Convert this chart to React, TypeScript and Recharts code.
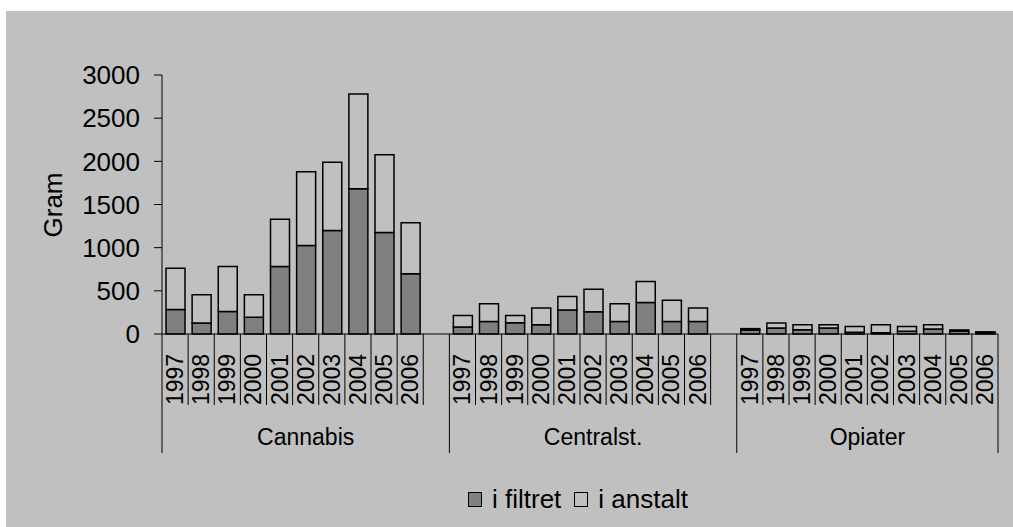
import React from "react"
import { BarChart, Bar, XAxis, YAxis } from "recharts"

const years = ["1997", "1998", "1999", "2000", "2001", "2002", "2003", "2004", "2005", "2006"]
const groups = ["Cannabis", "Centralst.", "Opiater"]

// i filtret / i anstalt, gram per year
const cannabisFiltret = [285, 127, 262, 193, 783, 1026, 1199, 1681, 1176, 698]
const cannabisAnstalt = [478, 328, 521, 262, 547, 852, 791, 1099, 899, 590]
const centralFiltret = [81, 146, 131, 108, 277, 258, 146, 365, 146, 146]
const centralAnstalt = [134, 204, 84, 192, 158, 261, 204, 243, 246, 154]
const opiaterFiltret = [45, 69, 50, 69, 19, 15, 31, 58, 35, 18]
const opiaterAnstalt = [17, 58, 58, 39, 69, 93, 57, 50, 12, 7]

const yTicks = [0, 500, 1000, 1500, 2000, 2500, 3000]

const seriesByGroup = [
    [cannabisFiltret, cannabisAnstalt],
    [centralFiltret, centralAnstalt],
    [opiaterFiltret, opiaterAnstalt],
]

type Row = { key: string; year: string; group: string; first: boolean; size: number; filtret?: number; anstalt?: number }

const rows: Row[] = []
groups.forEach((g, gi) => {
    const size = gi < groups.length - 1 ? years.length + 1 : years.length
    years.forEach((y, yi) => {
        rows.push({
            key: g + "-" + y,
            year: y,
            group: g,
            first: yi === 0,
            size,
            filtret: seriesByGroup[gi][0][yi],
            anstalt: seriesByGroup[gi][1][yi],
        })
    })
    if (gi < groups.length - 1) rows.push({ key: "gap" + gi, year: "", group: g, first: false, size })
})

const W = 1007
const H = 516
const MARGIN = { top: 64, right: 15, left: 0, bottom: 0 }
const Y_W = 156
const X_H = 193
const SLOT = (W - MARGIN.left - MARGIN.right - Y_W) / rows.length
const FONT = "Arial, 'Liberation Sans', sans-serif"

const YearTick = (props: any) => {
    const { x, y, index } = props
    const row = rows[index]
    const left = x - SLOT / 2
    return (
        <g>
            <line x1={left} y1={y} x2={left} y2={y + (row.first ? 119 : 71)} stroke="#000" strokeWidth={1} />
            {index === rows.length - 1 && (
                <line x1={left + SLOT} y1={y} x2={left + SLOT} y2={y + 119} stroke="#000" strokeWidth={1} />
            )}
            {row.year && (
                <text
                    transform={`translate(${x + 8}, ${y + 71}) rotate(-90)`}
                    textAnchor="start"
                    fontSize={23}
                    fontFamily={FONT}
                    fill="#000"
                >
                    {row.year}
                </text>
            )}
            {row.first && (
                <text x={left + (row.size * SLOT) / 2} y={y + 111} textAnchor="middle" fontSize={23} fontFamily={FONT} fill="#000">
                    {row.group}
                </text>
            )}
        </g>
    )
}

const LegendBox = ({ color, label }: { color: string; label: string }) => (
    <span style={{ display: "inline-flex", alignItems: "center", marginRight: 13 }}>
        <span style={{ width: 12, height: 13, background: color, border: "1.5px solid #000", marginRight: 10 }} />
        <span>{label}</span>
    </span>
)

const App: React.FC = () => {
    return (
        <div style={{ position: "absolute", left: 0, top: 0, width: 1013, height: 527, background: "#fff" }}>
            <div style={{ position: "absolute", left: 6, top: 11, width: W, height: H, background: "#c0c0c0" }}>
                <BarChart width={W} height={H} data={rows} margin={MARGIN} barSize={19}>
                    <XAxis
                        dataKey="key"
                        interval={0}
                        height={X_H}
                        tickLine={false}
                        tickSize={0}
                        tickMargin={0}
                        axisLine={{ stroke: "#000", strokeWidth: 1 }}
                        tick={YearTick}
                    />
                    <YAxis
                        width={Y_W}
                        domain={[0, 3000]}
                        ticks={yTicks}
                        interval={0}
                        tickSize={8}
                        tickMargin={14}
                        axisLine={{ stroke: "#000", strokeWidth: 1 }}
                        tickLine={{ stroke: "#000", strokeWidth: 1 }}
                        tick={{ fill: "#000", fontSize: 26, fontFamily: FONT }}
                        label={{
                            content: () => (
                                <text
                                    transform="translate(56, 194) rotate(-90)"
                                    textAnchor="middle"
                                    fontSize={26}
                                    fontFamily={FONT}
                                    fill="#000"
                                >
                                    Gram
                                </text>
                            ),
                        }}
                    />
                    <Bar dataKey="filtret" stackId="a" fill="#808080" stroke="#000" strokeWidth={1.5} isAnimationActive={false} />
                    <Bar dataKey="anstalt" stackId="a" fill="#c0c0c0" stroke="#000" strokeWidth={1.5} isAnimationActive={false} />
                </BarChart>
                <div
                    style={{
                        position: "absolute",
                        left: 462,
                        top: 473,
                        fontFamily: FONT,
                        fontSize: 26,
                        color: "#000",
                        display: "flex",
                        alignItems: "center",
                        whiteSpace: "nowrap",
                    }}
                >
                    <LegendBox color="#808080" label="i filtret" />
                    <LegendBox color="#c0c0c0" label="i anstalt" />
                </div>
            </div>
        </div>
    )
}

export default App
